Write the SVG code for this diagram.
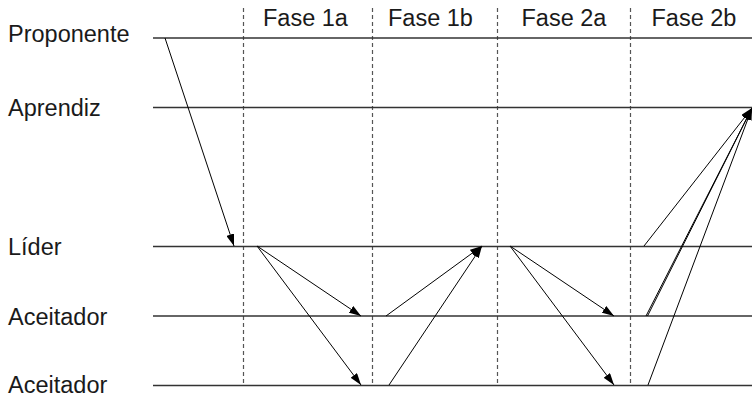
<svg xmlns="http://www.w3.org/2000/svg" width="752" height="398" viewBox="0 0 752 398">
<style>
.t{font-family:"Liberation Sans",Arial,sans-serif;font-size:23.5px;fill:#1a1a1a}
.h{stroke:#333;stroke-width:1.3;fill:none}
.d{stroke:#555;stroke-width:1.2;stroke-dasharray:4,3;fill:none}
.a{stroke:#000;stroke-width:1;fill:none;marker-end:url(#ah)}
</style>
<defs>
<marker id="ah" viewBox="0 0 12 8" refX="12" refY="4" markerWidth="12" markerHeight="8" markerUnits="userSpaceOnUse" orient="auto">
<path d="M0,0 L12,4 L0,8 Z" fill="#000"/>
</marker>
</defs>
<rect width="752" height="398" fill="#fff"/>
<g id="phases">
<line class="d" x1="243.5" y1="8" x2="243.5" y2="386"/>
<line class="d" x1="372.5" y1="8" x2="372.5" y2="386"/>
<line class="d" x1="497.5" y1="8" x2="497.5" y2="386"/>
<line class="d" x1="630.5" y1="8" x2="630.5" y2="386"/>
<text class="t" x="263" y="26">Fase 1a</text>
<text class="t" x="388" y="26">Fase 1b</text>
<text class="t" x="521.5" y="26">Fase 2a</text>
<text class="t" x="651.5" y="26">Fase 2b</text>
</g>
<g id="proponente"><text class="t" x="8" y="42">Proponente</text><line class="h" x1="153" y1="38" x2="752" y2="38"/></g>
<g id="aprendiz"><text class="t" x="8" y="116">Aprendiz</text><line class="h" x1="153" y1="107.5" x2="752" y2="107.5"/></g>
<g id="lider"><text class="t" x="8" y="255">Líder</text><line class="h" x1="153" y1="246.5" x2="752" y2="246.5"/></g>
<g id="aceitador1"><text class="t" x="8" y="325">Aceitador</text><line class="h" x1="153" y1="316" x2="752" y2="316"/></g>
<g id="aceitador2"><text class="t" x="8" y="393">Aceitador</text><line class="h" x1="153" y1="385.5" x2="752" y2="385.5"/></g>
<g id="connectors">
<line class="a" x1="165" y1="38" x2="234" y2="246"/>
<line class="a" x1="257" y1="246" x2="361" y2="316"/>
<line class="a" x1="257" y1="246" x2="361" y2="385"/>
<line class="a" x1="386" y1="316" x2="482" y2="246"/>
<line class="a" x1="389" y1="385" x2="482" y2="246"/>
<line class="a" x1="510" y1="246" x2="614" y2="316"/>
<line class="a" x1="510" y1="246" x2="614" y2="385"/>
<line class="a" x1="644" y1="246" x2="752" y2="108"/>
<line class="a" x1="646" y1="316" x2="752" y2="108"/>
<line class="a" x1="647.5" y1="316" x2="752" y2="108"/>
<line class="a" x1="648" y1="385" x2="752" y2="108"/>
</g>
</svg>
